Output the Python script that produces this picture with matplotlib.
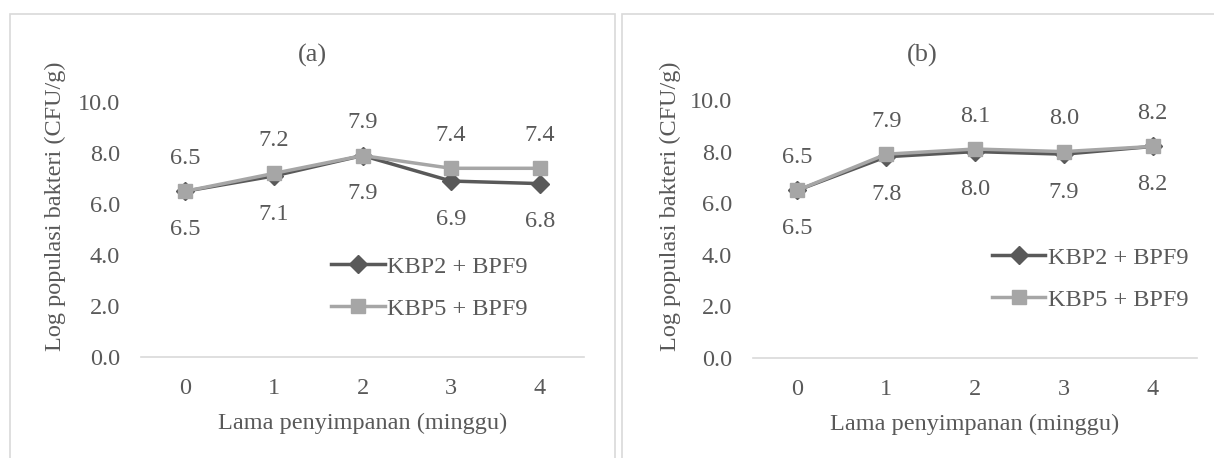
import numpy as np
import matplotlib.pyplot as plt

plt.rcParams['font.family'] = ['Liberation Serif', 'DejaVu Serif']

minggu = [0, 1, 2, 3, 4]
# panel (a)
a_kbp2 = [6.5, 7.1, 7.9, 6.9, 6.8]
a_kbp5 = [6.5, 7.2, 7.9, 7.4, 7.4]
# panel (b)
b_kbp2 = [6.5, 7.8, 8.0, 7.9, 8.2]
b_kbp5 = [6.5, 7.9, 8.1, 8.0, 8.2]
yticks = [0.0, 2.0, 4.0, 6.0, 8.0, 10.0]

dark = '#595959'
light = '#a6a6a6'
txt = '#595959'
fs = 17.5

W, H = 1214, 458
fig = plt.figure(figsize=(W/100, H/100), dpi=100)

def px(x0, y0, x1, y1):
    # pixel box (top-left origin) -> figure fraction
    return [x0/W, 1-y1/H, (x1-x0)/W, (y1-y0)/H]

# panel borders (open at the bottom, like the cropped source)
for (x0, x1) in [(10, 615), (622, 1240)]:
    fig.add_artist(plt.Rectangle((x0/W, -0.1), (x1-x0)/W, 1.1-14/H,
                                 transform=fig.transFigure, fill=False,
                                 edgecolor='#d9d9d9', lw=1.2))

def panel(box, k2, k5, title, title_x, leg_xy, ylab_x):
    ax = fig.add_axes(px(*box))
    ax.plot(minggu, k2, color=dark, lw=2.5, marker='D', ms=9.5, label='KBP2 + BPF9', zorder=3)
    ax.plot(minggu, k5, color=light, lw=2.5, marker='s', ms=10, label='KBP5 + BPF9', zorder=4)
    for x, v in zip(minggu, k5):
        ax.annotate(f'{v:.1f}', (x, v), xytext=(0, 23.5), textcoords='offset points',
                    ha='center', va='center', fontsize=fs, color=txt)
    for x, v in zip(minggu, k2):
        ax.annotate(f'{v:.1f}', (x, v), xytext=(0, -27.5), textcoords='offset points',
                    ha='center', va='center', fontsize=fs, color=txt)
    ax.set_xlim(-0.5, 4.5)
    ax.set_ylim(0, 10)
    ax.set_xticks(minggu)
    ax.set_yticks(yticks)
    ax.set_yticklabels([f'{t:.1f}' for t in yticks])
    for s in ['top', 'right', 'left']:
        ax.spines[s].set_visible(False)
    ax.spines['bottom'].set_color('#d9d9d9')
    ax.spines['bottom'].set_linewidth(1.2)
    ax.tick_params(length=0, labelsize=fs, labelcolor=txt)
    ax.tick_params(axis='x', pad=15)
    ax.tick_params(axis='y', pad=15)
    ax.set_xlabel('Lama penyimpanan (minggu)', fontsize=fs, color=txt, labelpad=10)
    fig.text(title_x/W, 1-55/H, title, ha='center', va='center', fontsize=fs+1.5, color=txt)
    ax.legend(loc='upper left', bbox_to_anchor=leg_xy, frameon=False, fontsize=fs,
              handlelength=2.2, handletextpad=0.1, labelspacing=0.84, borderpad=0,
              borderaxespad=0, labelcolor=txt)
    fig.text(ylab_x/W, 1-206/H, 'Log populasi bakteri (CFU/g)', rotation=90,
             ha='center', va='center', fontsize=fs, color=txt)
    ax.patch.set_alpha(0)
    return ax

panel((141, 102, 584, 357), a_kbp2, a_kbp5, '(a)', 312, (0.43, 0.398), 55)
panel((753, 100, 1197, 358), b_kbp2, b_kbp5, '(b)', 922, (0.538, 0.432), 670)

fig.savefig('out.png', dpi=100)
